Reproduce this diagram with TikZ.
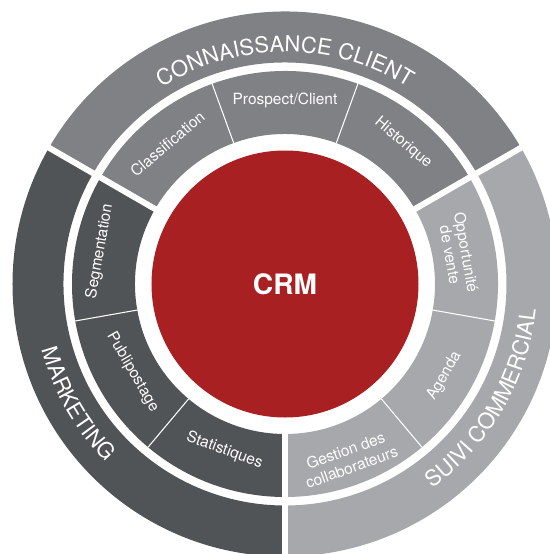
\documentclass[tikz,border=0pt]{standalone}
\usepackage{fontspec}
\setmainfont{TeX Gyre Heros}
\definecolor{crmred}{RGB}{169, 32, 34}
\definecolor{clientgray}{RGB}{128, 129, 133}
\definecolor{marketgray}{RGB}{81, 84, 87}
\definecolor{suivigray}{RGB}{166, 168, 171}
\usetikzlibrary{decorations.text}
\newcommand{\ringfont}{\fontsize{12.5}{12.5}\selectfont\color{white}}

\begin{document}
\begin{tikzpicture}[
  seglabel/.style={text=white, font=\fontsize{8.8}{10}\selectfont, align=center, inner sep=0pt},
  ringgap/.style={draw=white, line width=3.4pt},
  subline/.style={draw=white, line width=0.6pt},
]
  \useasboundingbox (-5.7,-5.4) rectangle (5.3,5.68);
  % both rings, one sector per theme
  \foreach \a/\col in {30/clientgray, 150/marketgray, 270/suivigray} {
    \fill[\col] (\a:3.0) arc[start angle=\a, delta angle=120, radius=3.0]
      -- ({\a+120}:4.26) arc[start angle=\a+120, delta angle=-120, radius=4.26] -- cycle;
    \fill[\col] (\a:4.43) arc[start angle=\a, delta angle=120, radius=4.43]
      -- ({\a+120}:5.45) arc[start angle=\a+120, delta angle=-120, radius=5.45] -- cycle;
  }
  \foreach \a in {30, 150, 270}
    \draw[ringgap] (\a:2.9) -- (\a:5.6);
  \foreach \a in {70, 110, 190, 230, 310, 350}
    \draw[subline] (\a:3.0) -- (\a:4.26);

  \node[circle, fill=crmred, minimum size=5.34cm, inner sep=0pt, text=white,
    font=\fontsize{16}{16}\bfseries\selectfont] (crm) at (0,0) {CRM};

  % outer titles
  \path[decorate, decoration={text along path, text align=center,
    text={|\ringfont|CONNAISSANCE CLIENT}}]
    (150:4.64) arc[start angle=150, end angle=30, radius=4.64];
  \path[decorate, decoration={text along path, text align=center,
    text={|\ringfont|MARKETING}}]
    (150:5.04) arc[start angle=150, end angle=270, radius=5.04];
  \path[decorate, decoration={text along path, text align=center,
    text={|\ringfont|SUIVI COMMERCIAL}}]
    (270:5.04) arc[start angle=270, end angle=390, radius=5.04];

  % middle ring
  \node[seglabel, rotate=40] (classif) at (130:3.66) {Classification};
  \node[seglabel] (prospect) at (90:3.68) {Prospect/Client};
  \node[seglabel, rotate=-40] (histo) at (50:3.68) {Historique};
  \node[seglabel, rotate=-80, font=\fontsize{8.8}{7}\selectfont] (opport) at (10:3.52) {Opportunité\\de vente};
  \node[seglabel, rotate=60] (agenda) at (330:3.68) {Agenda};
  \node[seglabel, rotate=20] (gestion) at (290:3.72) {Gestion des\\collaborateurs};
  \node[seglabel, rotate=-20] (stats) at (250:3.54) {Statistiques};
  \node[seglabel, rotate=-60] (publi) at (210:3.52) {Publipostage};
  \node[seglabel, rotate=80] (segm) at (170:3.76) {Segmentation};
\end{tikzpicture}
\end{document}
